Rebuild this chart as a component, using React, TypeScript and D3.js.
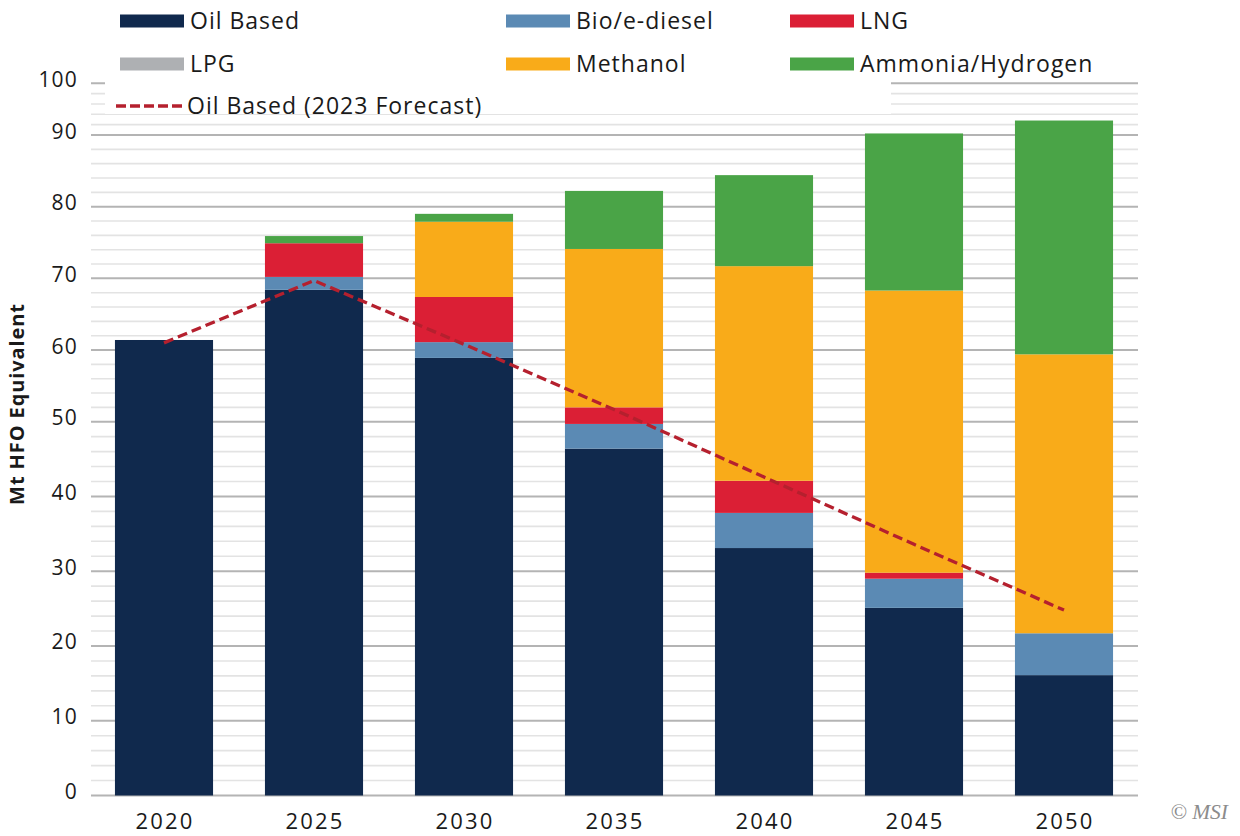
import React from 'react';
import * as d3 from 'd3';

const years = ['2020', '2025', '2030', '2035', '2040', '2045', '2050'];
const oilBased = [61.4, 68.4, 58.9, 46.4, 33.1, 25.1, 16.1];
const bioDiesel = [0, 1.8, 2.2, 3.3, 4.7, 3.9, 5.6];
const lng = [0, 4.7, 6.3, 2.3, 4.3, 0.8, 0];
const lpg = [0, 0, 0, 0, 0, 0, 0];
const methanol = [0, 0, 10.5, 22.1, 29.6, 38.5, 37.7];
const ammonia = [0, 1.0, 1.1, 8.1, 12.7, 22.0, 33.4];
const forecast2023 = [61.0, 69.7, 60.8, 51.7, 42.6, 33.6, 24.8];
const yTicks = [0, 10, 20, 30, 40, 50, 60, 70, 80, 90, 100];

const seriesKeys = ['Oil Based', 'Bio/e-diesel', 'LNG', 'LPG', 'Methanol', 'Ammonia/Hydrogen'];
const seriesColors = ['#10294d', '#5b8ab4', '#db1f35', '#aeb0b3', '#f9ab19', '#4aa447'];
const seriesValues = [oilBased, bioDiesel, lng, lpg, methanol, ammonia];

const FONT = "'Open Sans', sans-serif";

export default function App() {
  const rows = years.map((yr, i) => {
    const r: any = { year: yr };
    seriesKeys.forEach((k, j) => (r[k] = seriesValues[j][i]));
    return r;
  });
  const stacked = d3.stack().keys(seriesKeys)(rows);

  const x = d3.scaleBand().domain(years).range([89, 1139]).paddingInner(0.346).paddingOuter(0.173);
  const y = d3.scaleLinear().domain([0, 50, 90, 100]).range([795.5, 421.7, 135, 83.3]);

  const minor = d3.range(0, 100, 2).filter((v) => v % 10 !== 0);
  const gx0 = 91;
  const gx1 = 1138;

  const line = d3
    .line<number>()
    .x((_, i) => (x(years[i]) as number) + x.bandwidth() / 2)
    .y((d) => y(d));

  const legendItems = [
    { key: 'Oil Based', color: seriesColors[0], lx: 120, ly: 21 },
    { key: 'Bio/e-diesel', color: seriesColors[1], lx: 506, ly: 21 },
    { key: 'LNG', color: seriesColors[2], lx: 790, ly: 21 },
    { key: 'LPG', color: seriesColors[3], lx: 120, ly: 64 },
    { key: 'Methanol', color: seriesColors[4], lx: 506, ly: 64 },
    { key: 'Ammonia/Hydrogen', color: seriesColors[5], lx: 790, ly: 64 },
  ];

  return (
    <svg
      width={1240}
      height={836}
      style={{ position: 'absolute', left: 0, top: 0, background: '#fff' }}
      fontFamily={FONT}
    >
      <rect x={0} y={0} width={1240} height={836} fill="#fff" />
      {minor.map((v) => (
        <line key={'m' + v} x1={gx0} x2={gx1} y1={y(v)} y2={y(v)} stroke="#e3e3e3" strokeWidth={1.6} />
      ))}
      {yTicks.map((v) => (
        <line key={'M' + v} x1={gx0} x2={gx1} y1={y(v)} y2={y(v)} stroke="#b4b4b4" strokeWidth={2} />
      ))}
      {yTicks.map((v) => (
        <text
          key={'t' + v}
          x={78}
          y={y(v) + 3.5}
          textAnchor="end"
          fontSize={21}
          letterSpacing={1.2}
          fill="#1a1a1a"
        >
          {v}
        </text>
      ))}
      {stacked.map((s, j) => (
        <g key={s.key} fill={seriesColors[j]}>
          {s.map((d, i) =>
            d[1] - d[0] > 0 ? (
              <rect
                key={i}
                x={x(years[i]) as number}
                width={x.bandwidth()}
                y={y(d[1])}
                height={y(d[0]) - y(d[1])}
              />
            ) : null
          )}
        </g>
      ))}
      <path d={line(forecast2023) || ''} fill="none" stroke="#b5202e" strokeWidth={3.3} strokeDasharray="10,5" />
      {years.map((yr) => (
        <text
          key={yr}
          x={(x(yr) as number) + x.bandwidth() / 2 + 1}
          y={829}
          textAnchor="middle"
          fontSize={22}
          letterSpacing={2.2}
          fill="#1a1a1a"
        >
          {yr}
        </text>
      ))}
      <text
        transform="translate(24,404) rotate(-90)"
        textAnchor="middle"
        fontSize={20}
        fontWeight="bold"
        letterSpacing={0.9}
        fill="#1a1a1a"
      >
        Mt HFO Equivalent
      </text>
      <rect x={105} y={0} width={786} height={114} fill="#fff" />
      {legendItems.map((it) => (
        <g key={it.key}>
          <rect x={it.lx} y={it.ly - 6.5} width={64} height={13} fill={it.color} />
          <text x={it.lx + 70} y={it.ly + 8} fontSize={23} letterSpacing={1} fill="#1a1a1a">
            {it.key}
          </text>
        </g>
      ))}
      <line x1={116} x2={182} y1={106} y2={106} stroke="#b5202e" strokeWidth={3.3} strokeDasharray="10,4" />
      <text x={187} y={114} fontSize={23} letterSpacing={1} fill="#1a1a1a">
        Oil Based (2023 Forecast)
      </text>
      <text
        x={1228}
        y={819}
        textAnchor="end"
        fontSize={21.5}
        fontStyle="italic"
        fontFamily="'Liberation Serif', serif"
        fill="#8c8c8c"
      >
        © MSI
      </text>
    </svg>
  );
}
